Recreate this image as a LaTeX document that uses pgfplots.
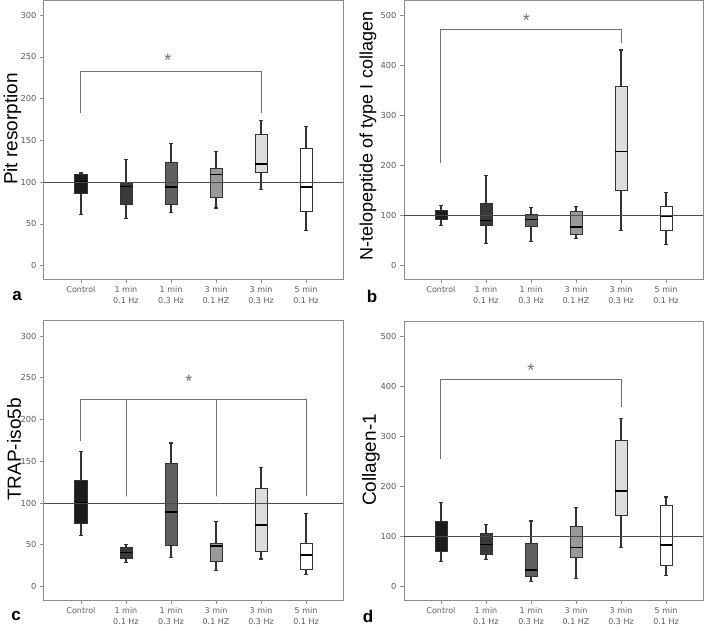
\documentclass[border=0pt]{standalone}
\usepackage{fontspec}
\setmainfont{Liberation Sans}
\newfontfamily\tickfont{DejaVu Sans}
\usepackage{pgfplots}
\pgfplotsset{compat=1.18}
\usepgfplotslibrary{statistics}

\definecolor{cA}{HTML}{1C1C1C}
\definecolor{cB}{HTML}{3A3A3A}
\definecolor{cC}{HTML}{606060}
\definecolor{cD}{HTML}{9A9A9A}
\definecolor{cE}{HTML}{DCDCDC}
\definecolor{cF}{HTML}{FFFFFF}
\definecolor{framec}{HTML}{8C8C8C}
\definecolor{txt}{HTML}{5A5A5A}
\definecolor{brk}{HTML}{707070}

\pgfplotsset{
 panel/.style={
  scale only axis, width=299pt, height=278pt,
  xmin=-0.82, xmax=5.82,
  xtick={0,1,2,3,4,5},
  xticklabels={Control,{1 min\\0.1 Hz},{1 min\\0.3 Hz},{3 min\\0.1 HZ},{3 min\\0.3 Hz},{5 min\\0.1 Hz}},
  xticklabel style={align=center, font=\tickfont\fontsize{8}{10.7}\selectfont, text=txt},
  yticklabel style={font=\tickfont\fontsize{8.3}{9}\selectfont, text=txt},
  /pgf/number format/assume math mode=true,
  tick align=outside, tick pos=left,
  major tick length=4pt,
  tick style={framec, line width=0.8pt},
  axis line style={framec, line width=1pt},
  boxplot/draw direction=y,
  boxplot/box extend=0.27,
  boxplot/whisker extend=0.08,
  boxplot/every median/.style={black, line width=1.6pt},
  boxplot/every whisker/.style={line width=1.2pt},
  clip=false,
 },
 bx/.style={draw=black!80, line width=0.7pt, fill=#1, solid, mark=none},
 refl/.style={line width=1pt, color=black!70, mark=none},
 br/.style={line width=0.9pt, color=brk, mark=none},
}
\tikzset{
 starnode/.style={text=brk, anchor=base, font=\fontsize{18}{18}\selectfont},
 ylab/.style={rotate=90, font=\fontsize{19}{19}\selectfont},
}

\begin{document}
\begin{tikzpicture}
\useasboundingbox (0,0) rectangle (706pt,630pt);

% ---------- panel a ----------
\begin{axis}[panel, at={(44pt,351pt)}, anchor=south west, ymin=-16, ymax=317, ytick={0,50,100,150,200,250,300}]
\addplot[bx=cA, boxplot prepared={draw position=0, lower whisker=61, lower quartile=87, median=101, upper quartile=109, upper whisker=111}] coordinates {};
\addplot[bx=cB, boxplot prepared={draw position=1, lower whisker=56, lower quartile=74, median=95, upper quartile=100, upper whisker=127}] coordinates {};
\addplot[bx=cC, boxplot prepared={draw position=2, lower whisker=64, lower quartile=73, median=94, upper quartile=124, upper whisker=146}] coordinates {};
\addplot[bx=cD, boxplot prepared={draw position=3, lower whisker=69, lower quartile=82, median=109, upper quartile=117, upper whisker=137}] coordinates {};
\addplot[bx=cE, boxplot prepared={draw position=4, lower whisker=91, lower quartile=112, median=122, upper quartile=157, upper whisker=174}] coordinates {};
\addplot[bx=cF, boxplot prepared={draw position=5, lower whisker=42, lower quartile=65, median=94, upper quartile=141, upper whisker=167}] coordinates {};
\addplot[refl] coordinates {(-0.82,100) (5.82,100)};
\addplot[br] coordinates {(0,183) (0,233) (4,233) (4,183)};
\node[starnode] at (axis cs:1.93,238) {*};
\end{axis}

% ---------- panel b ----------
\begin{axis}[panel, at={(404pt,351pt)}, anchor=south west, ymin=-26.5, ymax=529, ytick={0,100,200,300,400,500}]
\addplot[bx=cA, boxplot prepared={draw position=0, lower whisker=81, lower quartile=92, median=100, upper quartile=110, upper whisker=120}] coordinates {};
\addplot[bx=cB, boxplot prepared={draw position=1, lower whisker=45, lower quartile=81, median=90, upper quartile=124, upper whisker=180}] coordinates {};
\addplot[bx=cC, boxplot prepared={draw position=2, lower whisker=48, lower quartile=78, median=92, upper quartile=102, upper whisker=116}] coordinates {};
\addplot[bx=cD, boxplot prepared={draw position=3, lower whisker=55, lower quartile=63, median=77, upper quartile=108, upper whisker=118}] coordinates {};
\addplot[bx=cE, boxplot prepared={draw position=4, lower whisker=70, lower quartile=150, median=228, upper quartile=358, upper whisker=431}] coordinates {};
\addplot[bx=cF, boxplot prepared={draw position=5, lower whisker=43, lower quartile=71, median=98, upper quartile=118, upper whisker=147}] coordinates {};
\addplot[refl] coordinates {(-0.82,100) (5.82,100)};
\addplot[br] coordinates {(0,205) (0,473) (4,473) (4,445)};
\node[starnode] at (axis cs:1.9,478) {*};
\end{axis}

% ---------- panel c ----------
\begin{axis}[panel, at={(44pt,30pt)}, anchor=south west, height=279pt, ymin=-16, ymax=318, ytick={0,50,100,150,200,250,300}]
\addplot[bx=cA, boxplot prepared={draw position=0, lower whisker=61, lower quartile=76, median=100, upper quartile=127, upper whisker=162}] coordinates {};
\addplot[bx=cB, boxplot prepared={draw position=1, lower whisker=29, lower quartile=34, median=41, upper quartile=47, upper whisker=50}] coordinates {};
\addplot[bx=cC, boxplot prepared={draw position=2, lower whisker=35, lower quartile=50, median=89, upper quartile=148, upper whisker=172}] coordinates {};
\addplot[bx=cD, boxplot prepared={draw position=3, lower whisker=19, lower quartile=30, median=49, upper quartile=52, upper whisker=78}] coordinates {};
\addplot[bx=cE, boxplot prepared={draw position=4, lower whisker=33, lower quartile=42, median=74, upper quartile=118, upper whisker=143}] coordinates {};
\addplot[bx=cF, boxplot prepared={draw position=5, lower whisker=15, lower quartile=21, median=38, upper quartile=52, upper whisker=88}] coordinates {};
\addplot[refl] coordinates {(-0.82,100) (5.82,100)};
\addplot[br] coordinates {(0,174) (0,224) (1,224) (1,108) (1,224) (3,224) (3,108) (3,224) (5,224) (5,108)};
\node[starnode] at (axis cs:2.4,238) {*};
\end{axis}

% ---------- panel d ----------
\begin{axis}[panel, at={(404pt,30pt)}, anchor=south west, height=279pt, ymin=-26.5, ymax=530, ytick={0,100,200,300,400,500}]
\addplot[bx=cA, boxplot prepared={draw position=0, lower whisker=50, lower quartile=71, median=100, upper quartile=131, upper whisker=168}] coordinates {};
\addplot[bx=cB, boxplot prepared={draw position=1, lower whisker=54, lower quartile=64, median=84, upper quartile=106, upper whisker=124}] coordinates {};
\addplot[bx=cC, boxplot prepared={draw position=2, lower whisker=10, lower quartile=21, median=33, upper quartile=86, upper whisker=131}] coordinates {};
\addplot[bx=cD, boxplot prepared={draw position=3, lower whisker=16, lower quartile=59, median=78, upper quartile=121, upper whisker=158}] coordinates {};
\addplot[bx=cE, boxplot prepared={draw position=4, lower whisker=78, lower quartile=143, median=191, upper quartile=291, upper whisker=336}] coordinates {};
\addplot[bx=cF, boxplot prepared={draw position=5, lower whisker=23, lower quartile=43, median=83, upper quartile=163, upper whisker=179}] coordinates {};
\addplot[refl] coordinates {(-0.82,100) (5.82,100)};
\addplot[br] coordinates {(0,255) (0,414) (4,414) (4,359)};
\node[starnode] at (axis cs:2.0,419) {*};
\end{axis}

% ---------- axis titles and panel letters ----------
\node[ylab] at (12.5pt,501pt) {Pit resorption};
\node[ylab, font=\fontsize{18}{18}\selectfont] at (368pt,494pt) {N-telopeptide of type I collagen};
\node[ylab] at (14pt,180.5pt) {TRAP-iso5b};
\node[ylab] at (371pt,170pt) {Collagen-1};

\node[anchor=base, font=\bfseries\fontsize{17}{17}\selectfont] at (17pt,330pt) {a};
\node[anchor=base, font=\bfseries\fontsize{17}{17}\selectfont] at (372pt,328pt) {b};
\node[anchor=base, font=\bfseries\fontsize{17}{17}\selectfont] at (16pt,10pt) {c};
\node[anchor=base, font=\bfseries\fontsize{17}{17}\selectfont] at (368pt,8pt) {d};
\end{tikzpicture}
\end{document}
